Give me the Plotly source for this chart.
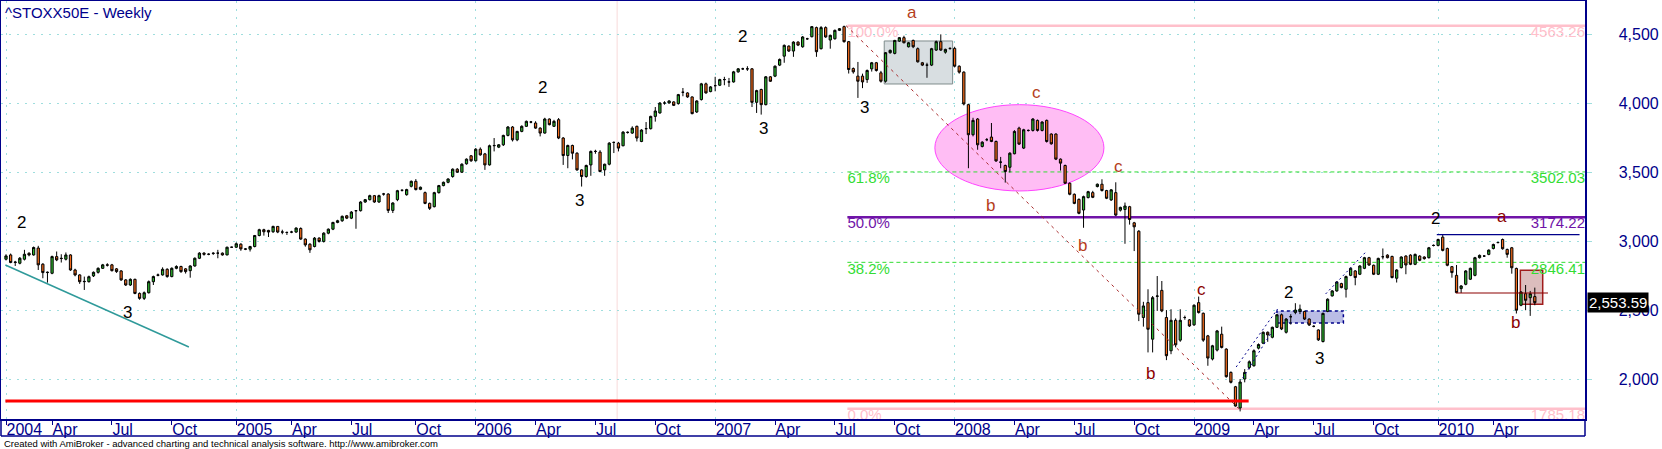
import plotly.graph_objects as go
import pandas as pd

# ---------------- data (weekly bars) ----------------
first_week = "2004-01-23"

opens = [2869,2900,2845,2840,2869,2912,2900,2950,2833,2772,2767,2888,2876,2869,2900,2791,2755,2706,2706,2748,
 2774,2803,2828,2828,2799,2784,2719,2682,2723,2621,2585,2626,2706,2755,2755,2796,2743,2803,2816,2799,
 2786,2820,2876,2913,2905,2913,2913,2913,2900,2956,2956,2978,2944,2942,2961,3041,3083,3078,3068,3107,
 3066,3063,3066,3066,3092,3015,2978,2961,3022,2998,3058,3087,3136,3148,3184,3167,3221,3221,3284,3301,
 3330,3284,3342,3342,3223,3301,3369,3337,3398,3434,3376,3352,3274,3250,3352,3403,3427,3469,3522,3500,
 3561,3619,3583,3667,3633,3553,3692,3682,3699,3767,3828,3735,3796,3833,3864,3857,3820,3784,3886,3833,
 3881,3748,3621,3694,3638,3517,3469,3553,3651,3646,3517,3558,3716,3711,3692,3789,3784,3833,3723,3816,
 3816,3905,3930,4002,4002,4010,3998,4080,4075,4046,3937,4027,4141,4085,4128,4131,4172,4155,4155,4228,
 4250,4250,4250,4007,4100,3990,4192,4197,4277,4342,4415,4379,4444,4410,4468,4483,4549,4396,4549,4459,
 4468,4529,4556,4447,4252,4197,4197,4172,4250,4294,4221,4160,4367,4362,4451,4476,4410,4456,4396,4294,
 4277,4277,4386,4447,4371,4398,4398,4269,4226,3990,3772,3886,3687,3736,3755,3723,3573,3549,3536,3634,
 3820,3675,3803,3803,3876,3803,3876,3777,3777,3595,3549,3420,3340,3303,3226,3316,3352,3396,3413,3367,
 3299,3352,3225,3230,3250,3133,3072,2446,2554,2289,2600,2643,2446,2205,2426,2282,2446,2429,2393,2554,
 2477,2313,2145,2210,2325,2217,2048,1944,1790,2000,2084,2096,2224,2260,2339,2303,2375,2466,2339,2452,
 2483,2490,2490,2435,2382,2356,2272,2490,2603,2639,2692,2651,2752,2784,2760,2803,2880,2825,2760,2887,
 2899,2889,2731,2808,2892,2899,2832,2892,2885,2880,2969,2969,3029,2947,2815,2752,2656,2687,2724,2752,
 2880,2892,2904,2947,2990,3012,2940,2952,2802,2535,2619,2590,2598]

highs = [2905,2910,2857,2885,2937,2920,2961,2966,2840,2780,2895,2925,2905,2918,2905,2800,2760,2743,2750,2780,
 2810,2835,2840,2835,2805,2790,2725,2730,2728,2628,2635,2715,2750,2765,2810,2803,2810,2825,2822,2805,
 2825,2882,2920,2920,2912,2920,2937,2918,2960,2960,2990,2985,2950,2966,3045,3090,3090,3082,3112,3110,
 3083,3070,3075,3100,3100,3020,2985,3030,3028,3065,3092,3140,3155,3186,3190,3218,3226,3290,3306,3337,
 3335,3337,3350,3347,3282,3372,3375,3380,3440,3450,3396,3360,3280,3358,3408,3432,3456,3528,3530,3565,
 3600,3625,3675,3680,3640,3700,3748,3704,3772,3835,3835,3800,3840,3875,3872,3870,3826,3895,3890,3880,
 3893,3755,3700,3700,3645,3522,3555,3658,3663,3660,3562,3718,3723,3720,3798,3796,3833,3838,3812,3864,
 3910,3973,4008,4015,4022,4015,4068,4111,4080,4050,4022,4148,4150,4125,4192,4178,4192,4184,4235,4256,
 4258,4269,4256,4098,4106,4198,4198,4275,4325,4427,4420,4450,4450,4488,4475,4560,4556,4560,4558,4498,
 4535,4546,4563.26,4452,4260,4300,4215,4245,4300,4300,4235,4372,4390,4460,4481,4490,4445,4462,4405,4300,
 4294,4402,4455,4500,4396,4405,4410,4275,4232,3997,3895,3893,3725,3748,3857,3730,3611,3555,3645,3805,
 3830,3815,3810,3892,3882,3870,3882,3782,3782,3600,3555,3426,3346,3310,3330,3365,3365,3418,3449,3372,
 3378,3427,3250,3280,3256,3140,3080,2560,2651,2602,2747,2711,2500,2506,2440,2506,2460,2435,2542,2598,
 2482,2320,2248,2356,2380,2223,2055,1950,2000,2072,2135,2215,2258,2345,2345,2380,2472,2475,2442,2470,
 2550,2540,2495,2440,2390,2360,2482,2585,2645,2710,2698,2750,2810,2790,2826,2886,2886,2830,2880,2947,
 2905,2895,2797,2890,2898,2905,2910,2898,2890,2958,2976,3018,3050,2953,2820,2827,2681,2790,2808,2886,
 2903,2898,2940,2982,2996,3019,2946,2958,2808,2637,2682,2639,2663]

lows = [2860,2840,2820,2832,2860,2890,2895,2791,2731,2699,2760,2855,2845,2860,2785,2745,2690,2646,2700,2740,
 2765,2798,2816,2780,2770,2712,2675,2675,2615,2575,2573,2620,2682,2745,2750,2735,2738,2796,2770,2765,
 2735,2815,2870,2895,2898,2900,2876,2895,2898,2952,2950,2930,2935,2925,2955,3035,3040,3030,3060,3058,
 3050,3045,3058,3060,3010,2960,2915,2955,2990,2990,3050,3080,3130,3140,3160,3160,3090,3215,3278,3295,
 3278,3278,3330,3204,3204,3290,3360,3330,3390,3368,3370,3268,3226,3245,3345,3398,3420,3460,3495,3495,
 3555,3575,3578,3620,3517,3548,3651,3675,3690,3760,3723,3725,3790,3828,3855,3815,3760,3780,3840,3828,
 3740,3553,3529,3593,3510,3396,3460,3474,3634,3500,3474,3550,3639,3651,3688,3780,3778,3723,3718,3777,
 3810,3867,3925,3990,3998,3980,3990,4051,4040,3920,3930,4020,4070,4080,4087,4125,4131,4119,4150,4222,
 4242,4235,3973,3930,3918,3985,4155,4190,4270,4294,4372,4337,4415,4403,4460,4478,4337,4390,4475,4396,
 4462,4524,4440,4216,4215,4039,4110,4148,4230,4230,4150,4150,4360,4355,4445,4435,4405,4400,4295,4270,
 4185,4270,4380,4380,4360,4388,4260,4215,3985,3529,3760,3663,3680,3725,3718,3575,3529,3425,3498,3630,
 3698,3668,3795,3795,3795,3796,3715,3700,3588,3512,3415,3333,3268,3195,3097,3310,3312,3390,3360,3305,
 3292,3182,3215,2981,3120,2928,2420,2380,2193,2193,2494,2485,2137,2180,2230,2270,2430,2378,2385,2475,
 2270,2096,2135,2200,2222,2010,1968,1800,1765,1976,2070,2090,2215,2255,2270,2295,2370,2355,2330,2395,
 2470,2471,2428,2385,2375,2276,2265,2485,2598,2633,2658,2591,2746,2680,2754,2797,2820,2754,2754,2868,
 2875,2730,2700,2802,2760,2826,2826,2855,2866,2874,2962,2962,2926,2818,2735,2624,2624,2680,2718,2745,
 2874,2886,2898,2940,2984,2938,2880,2764,2475,2528,2499,2458,2535]

closes = [2893,2845,2848,2876,2905,2900,2954,2828,2772,2774,2888,2864,2874,2900,2791,2755,2706,2708,2742,2774,
 2803,2828,2826,2786,2779,2719,2682,2723,2621,2585,2626,2706,2743,2753,2796,2743,2803,2816,2779,2779,
 2820,2876,2913,2905,2905,2911,2913,2900,2956,2956,2981,2944,2942,2961,3041,3083,3068,3066,3107,3066,
 3066,3063,3066,3095,3015,2973,2937,3022,2998,3058,3087,3136,3148,3180,3167,3211,3221,3284,3301,3330,
 3284,3330,3342,3223,3277,3366,3369,3374,3434,3374,3391,3274,3238,3352,3403,3427,3451,3522,3500,3558,
 3595,3583,3667,3626,3553,3692,3694,3699,3767,3828,3735,3796,3833,3869,3864,3820,3784,3886,3845,3869,
 3748,3621,3694,3638,3517,3469,3549,3651,3651,3505,3558,3711,3716,3675,3791,3789,3820,3748,3806,3816,
 3905,3944,4002,4002,4017,3985,4063,4080,4046,3925,4017,4141,4075,4119,4128,4172,4172,4155,4228,4250,
 4250,4250,4007,4092,3990,4192,4160,4269,4318,4420,4379,4444,4422,4481,4468,4556,4374,4549,4481,4493,
 4529,4541,4447,4245,4228,4160,4155,4238,4294,4238,4160,4367,4384,4456,4476,4439,4439,4410,4301,4277,
 4277,4396,4447,4386,4391,4398,4269,4226,3995,3772,3876,3699,3718,3736,3723,3582,3573,3505,3638,3796,
 3704,3808,3803,3886,3803,3864,3723,3706,3595,3566,3420,3340,3274,3202,3323,3359,3318,3413,3367,3311,
 3372,3189,3245,3255,3157,3104,2470,2530,2361,2590,2602,2494,2169,2426,2248,2426,2446,2385,2535,2482,
 2282,2152,2241,2349,2229,2017,1976,1804,1978,2048,2125,2205,2250,2339,2320,2375,2466,2363,2435,2452,
 2500,2507,2435,2392,2382,2284,2476,2579,2639,2704,2663,2743,2803,2736,2820,2880,2827,2760,2875,2887,
 2880,2736,2791,2885,2827,2832,2904,2861,2873,2952,2969,3012,2933,2825,2772,2627,2675,2784,2803,2880,
 2897,2892,2935,2976,2990,2945,2904,2807,2499,2631,2571,2619,2553.59]

dates = pd.date_range(first_week, periods=len(closes), freq="7D")

quarter_ticks = ["2004-01-23", "2004-04-02", "2004-07-02", "2004-10-01",
                 "2005-01-07", "2005-04-01", "2005-07-01", "2005-10-07",
                 "2006-01-06", "2006-04-07", "2006-07-07", "2006-10-06",
                 "2007-01-05", "2007-04-06", "2007-07-06", "2007-10-05",
                 "2008-01-04", "2008-04-04", "2008-07-04", "2008-10-03",
                 "2009-01-02", "2009-04-03", "2009-07-03", "2009-10-02",
                 "2010-01-08", "2010-04-02"]
quarter_labels = ["2004", "Apr", "Jul", "Oct", "2005", "Apr", "Jul", "Oct",
                  "2006", "Apr", "Jul", "Oct", "2007", "Apr", "Jul", "Oct",
                  "2008", "Apr", "Jul", "Oct", "2009", "Apr", "Jul", "Oct",
                  "2010", "Apr"]
year_grid = ["2004-01-23", "2005-01-07", "2006-01-06", "2007-01-05",
             "2008-01-04", "2009-01-02", "2010-01-08"]
price_grid = [2000, 2500, 3000, 3500, 4000, 4500]

x_range = ["2004-01-15 09:00", "2010-08-19 07:00"]
y_range = [1710, 4742]

# Fibonacci retracement
fib_high = 4563.26
fib_low = 1785.18
fib_ratios = [1.0, 0.618, 0.5, 0.382, 0.0]
fib_names = ["100.0%", "61.8%", "50.0%", "38.2%", "0.0%"]
fib_start = "2007-07-25"
fib_high_date = "2007-07-23"
fib_low_date = "2009-03-11"

# wave labels: (text, date, price, colour)
wave_labels = [
    ("2", "2004-02-16", 3132, "black"), ("3", "2004-07-26", 2486, "black"),
    ("2", "2006-04-18", 4111, "black"), ("3", "2006-06-13", 3298, "black"),
    ("2", "2007-02-15", 4481, "black"), ("3", "2007-03-20", 3814, "black"),
    ("3", "2007-08-20", 3973, "black"),
    ("a", "2007-10-31", 4662, "#b5401c"), ("c", "2008-05-07", 4075, "#b5401c"),
    ("b", "2008-02-28", 3262, "#b5401c"), ("c", "2008-09-09", 3538, "#b5401c"),
    ("b", "2008-07-16", 2965, "#b5401c"),
    ("c", "2009-01-14", 2646, "#8b0000"), ("b", "2008-10-28", 2043, "#8b0000"),
    ("2", "2009-05-26", 2624, "black"), ("3", "2009-07-12", 2152, "black"),
    ("2", "2010-01-04", 3168, "black"),
    ("a", "2010-04-15", 3182, "#8b0000"), ("b", "2010-05-05", 2407, "#8b0000"),
]

# dotted channel segments of the 2009 rally: (date0, price0, date1, price1)
channel_lines = [
    ("2009-03-07", 2087, "2009-05-09", 2508),
    ("2009-03-17", 2007, "2009-04-30", 2341),
    ("2009-07-21", 2617, "2009-09-20", 2921),
]

NAVY = "#00008b"
GRID = "#9fdede"
FONT = "Liberation Sans, Arial, sans-serif"

fig = go.Figure()

fig.add_trace(go.Candlestick(
    x=dates, open=opens, high=highs, low=lows, close=closes,
    increasing=dict(fillcolor="#2db52d", line=dict(color="black", width=1)),
    decreasing=dict(fillcolor="#f26a1b", line=dict(color="black", width=1)),
    whiskerwidth=0, showlegend=False, hoverinfo="skip", xaxis="x", yaxis="y"))

# invisible carrier for the date-label axis
fig.add_trace(go.Scatter(x=[dates[0], dates[-1]], y=[closes[0], closes[-1]], mode="lines",
                         line=dict(color="rgba(0,0,0,0)"), xaxis="x2", yaxis="y",
                         showlegend=False, hoverinfo="skip"))

fib_levels = [fib_low + r * (fib_high - fib_low) for r in fib_ratios]
fib_colors = ["#ffc0cb", "#33dd33", "#7014a8", "#33dd33", "#ffc0cb"]

fig.add_trace(go.Scatter(
    x=[fib_start] * len(fib_levels), y=fib_levels, mode="text", text=fib_names,
    textposition="bottom right", textfont=dict(family=FONT, size=15, color=fib_colors),
    cliponaxis=True, showlegend=False, hoverinfo="skip"))
fig.add_trace(go.Scatter(
    x=[x_range[1]] * len(fib_levels), y=fib_levels, mode="text",
    text=[f"{v:.2f}" for v in fib_levels],
    textposition="bottom left", textfont=dict(family=FONT, size=15, color=fib_colors),
    cliponaxis=True, showlegend=False, hoverinfo="skip"))

shapes = []
shapes.append(dict(type="rect", xref="x", yref="y", x0="2007-09-19", x1="2008-01-01",
                   y0=4140, y1=4452, fillcolor="#d8dee1", line=dict(color="#7f8c8d", width=1),
                   layer="between"))
shapes.append(dict(type="circle", xref="x", yref="y", x0="2007-12-05", x1="2008-08-18",
                   y0=3364, y1=3990, fillcolor="#ffbdf4", line=dict(color="#ff44ff", width=1),
                   layer="between"))
shapes.append(dict(type="rect", xref="x", yref="y", x0="2009-05-08", x1="2009-08-17",
                   y0=2407, y1=2494, fillcolor="#babde6",
                   line=dict(color=NAVY, width=1.5, dash="3px,3px"), layer="between"))
shapes.append(dict(type="rect", xref="x", yref="y", x0="2010-05-13", x1="2010-06-16",
                   y0=2542, y1=2789, fillcolor="#dcbdbd", line=dict(color="#a01c1c", width=1.5),
                   layer="between"))
shapes.append(dict(type="line", xref="x", yref="paper", x0="2006-08-09", x1="2006-08-09",
                   y0=0, y1=1, line=dict(color="#f8dada", width=1), layer="between"))
fib_widths = [2.5, 1, 2.5, 1, 2.5]
fib_dashes = ["solid", "4px,3px", "solid", "4px,3px", "solid"]
for lv, col, w, d in zip(fib_levels, fib_colors, fib_widths, fib_dashes):
    shapes.append(dict(type="line", xref="x", yref="y", x0=fib_start, x1=x_range[1],
                       y0=lv, y1=lv, line=dict(color=col, width=w, dash=d), layer="between"))
for d0, p0, d1, p1 in channel_lines:
    shapes.append(dict(type="line", xref="x", yref="y", x0=d0, y0=p0, x1=d1, y1=p1,
                       line=dict(color=NAVY, width=1, dash="2px,3px")))
shapes.append(dict(type="line", xref="x", yref="y", x0="2004-01-22", y0=2827,
                   x1="2004-10-27", y1=2232, line=dict(color="#2f9a9a", width=1.5)))
shapes.append(dict(type="line", xref="x", yref="y", x0="2004-01-22", y0=1840,
                   x1="2009-03-26", y1=1840, line=dict(color="#ff0000", width=3)))
shapes.append(dict(type="line", xref="x", yref="y", x0=fib_high_date, y0=fib_high,
                   x1=fib_low_date, y1=fib_low, line=dict(color="#a8282a", width=1, dash="3px,4px")))
shapes.append(dict(type="line", xref="x", yref="y", x0="2010-02-04", y0=2624,
                   x1="2010-06-24", y1=2624, line=dict(color="#8b0000", width=1.2)))
shapes.append(dict(type="line", xref="x", yref="y", x0="2010-01-06", y0=3047,
                   x1="2010-08-11", y1=3047, line=dict(color=NAVY, width=1.2)))
band = -0.0407
shapes += [
    dict(type="line", xref="paper", yref="paper", x0=0, x1=0, y0=band, y1=0, line=dict(color=NAVY, width=1.5)),
    dict(type="line", xref="paper", yref="paper", x0=1, x1=1, y0=band, y1=0, line=dict(color=NAVY, width=1.5)),
    dict(type="line", xref="paper", yref="paper", x0=0, x1=1, y0=band, y1=band, line=dict(color=NAVY, width=1.5)),
]

annotations = []
for txt, d, p, col in wave_labels:
    annotations.append(dict(x=d, y=p, xref="x", yref="y", text=txt, showarrow=False,
                            font=dict(family=FONT, size=17, color=col)))
annotations.append(dict(x=0, y=1, xref="paper", yref="paper", xanchor="left", yanchor="top",
                        xshift=2, yshift=-1, text="^STOXX50E - Weekly", showarrow=False,
                        font=dict(family=FONT, size=15, color=NAVY)))
annotations.append(dict(x=1, y=closes[-1], xref="paper", yref="y", xanchor="left", yanchor="middle",
                        xshift=2, text=f"{closes[-1]:,.2f}", showarrow=False, bgcolor="black",
                        borderpad=1, font=dict(family=FONT, size=15, color="white")))
annotations.append(dict(x=0, y=band, xref="paper", yref="paper", xanchor="left", yanchor="top",
                        yshift=0, xshift=1,
                        text="Created with AmiBroker - advanced charting and technical analysis software. http://www.amibroker.com",
                        showarrow=False, font=dict(family=FONT, size=9.5, color="black")))

fig.update_layout(
    template="none",
    width=1662, height=449,
    margin=dict(l=1, r=77, t=1, b=30, pad=0),
    paper_bgcolor="white", plot_bgcolor="white",
    showlegend=False,
    shapes=shapes, annotations=annotations,
    xaxis=dict(type="date", range=x_range, tickvals=year_grid, showticklabels=False, ticks="",
               showgrid=True, gridcolor=GRID, griddash="2px,6px", gridwidth=1,
               showline=True, linecolor=NAVY, linewidth=1.5, mirror=True, zeroline=False,
               rangeslider=dict(visible=False), automargin=False),
    xaxis2=dict(type="date", range=x_range, overlaying="x", side="bottom", anchor="y",
                tickvals=quarter_ticks, ticktext=quarter_labels, showgrid=False,
                ticks="outside", ticklen=5, tickcolor=NAVY, tickwidth=1,
                ticklabelposition="outside right", ticklabelstandoff=-4, automargin=False,
                tickfont=dict(family=FONT, size=16, color=NAVY), zeroline=False, showline=False),
    yaxis=dict(side="right", range=y_range, tickvals=price_grid, tickformat=",",
               showgrid=True, gridcolor=GRID, griddash="2px,6px", gridwidth=1,
               ticks="outside", ticklen=5, tickcolor=GRID, ticklabelstandoff=24,
               tickfont=dict(family=FONT, size=16, color=NAVY), automargin=False,
               showline=True, linecolor=NAVY, linewidth=1.5, mirror=True, zeroline=False),
)

fig.write_html("out.html", config={"displayModeBar": False, "staticPlot": True},
               post_script="document.body.style.margin='0px';document.body.style.overflow='hidden';")
